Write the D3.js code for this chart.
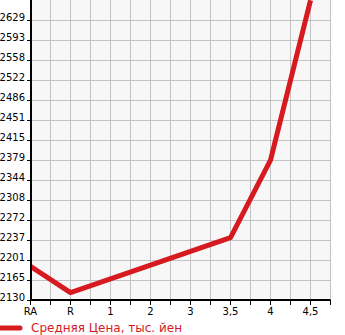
<!DOCTYPE html>
<html>
<head>
<meta charset="utf-8">
<script src="https://cdn.jsdelivr.net/npm/d3@7"></script>
<style>
  body { margin: 0; background: #fff; }
  #chart text { font-family: "DejaVu Sans", sans-serif; }
</style>
</head>
<body>
<div id="chart"></div>
<script>
// grades on the x axis, null = no price for that grade
const categories = ["RA", "R", "1", "2", "3", "3,5", "4", "4,5"];
const avgPrice = [2191, 2144, null, null, null, 2242, 2380, 2665];
const yTickLabels = ["2130", "2165", "2201", "2237", "2272", "2308", "2344", "2379",
  "2415", "2451", "2486", "2522", "2558", "2593", "2629"];
const legendLabel = "Средняя Цена, тыс. йен";

const red = "#d71a1f";

let svg = d3.select("#chart")
  .append("svg")
  .attr("width", 345)
  .attr("height", 335);

let plotLeft = 30.5, plotRight = 330.5, plotTop = 0.5, plotBottom = 300.5;

// y ticks are evenly spaced between first and last label
let yMin = +yTickLabels[0];
let yStep = (+yTickLabels[yTickLabels.length - 1] - yMin) / (yTickLabels.length - 1);
let yTicks = yTickLabels.map((d, i) => yMin + i * yStep);

let x = d3.scaleLinear().domain([0, categories.length - 0.5]).range([plotLeft, plotRight]);
let y = d3.scaleLinear().domain([yMin, yMin + yTickLabels.length * yStep]).range([plotBottom, plotTop]);

let xGrid = d3.range(0, categories.length + 0.5, 0.5);

// plot background
svg.append("rect")
  .attr("x", plotLeft)
  .attr("y", 0)
  .attr("width", plotRight - plotLeft)
  .attr("height", plotBottom)
  .attr("fill", "#f7f7f7");

let grid = svg.append("g")
  .attr("stroke", "#c2c2c2")
  .attr("stroke-width", 1);
grid.selectAll(".vgrid")
  .data(xGrid)
  .enter()
  .append("line")
  .attr("x1", d => x(d))
  .attr("x2", d => x(d))
  .attr("y1", 0)
  .attr("y2", plotBottom);
grid.selectAll(".hgrid")
  .data(yTicks)
  .enter()
  .append("line")
  .attr("x1", plotLeft)
  .attr("x2", plotRight)
  .attr("y1", d => y(d))
  .attr("y2", d => y(d));

svg.append("clipPath")
  .attr("id", "plot-clip")
  .append("rect")
  .attr("x", plotLeft)
  .attr("y", 0)
  .attr("width", plotRight - plotLeft)
  .attr("height", plotBottom);

let points = avgPrice
  .map((v, i) => ({ i: i, v: v }))
  .filter(d => d.v != null);

let line = d3.line()
  .x(d => x(d.i))
  .y(d => y(d.v));

svg.append("path")
  .datum(points)
  .attr("clip-path", "url(#plot-clip)")
  .attr("fill", "none")
  .attr("stroke", red)
  .attr("stroke-width", 5)
  .attr("stroke-linejoin", "round")
  .attr("d", line);

// y axis
let yAxis = svg.append("g")
  .attr("transform", "translate(31,0)")
  .call(d3.axisLeft(y)
    .tickValues(yTicks)
    .tickFormat((d, i) => yTickLabels[i])
    .tickSize(4)
    .tickSizeOuter(0)
    .tickPadding(2)
    .offset(0));
yAxis.select(".domain").attr("stroke", "#000").attr("stroke-width", 2)
  .attr("d", "M0," + plotBottom + "V0");
yAxis.selectAll(".tick line").attr("stroke", "#000");
yAxis.selectAll(".tick text")
  .attr("dy", "0")
  .attr("fill", "#000")
  .style("font-size", "10px");

// x axis
let xAxis = svg.append("g")
  .attr("transform", "translate(0,300)")
  .call(d3.axisBottom(x)
    .tickValues(xGrid)
    .tickFormat(d => Number.isInteger(d) && d < categories.length ? categories[d] : "")
    .tickSize(5)
    .tickSizeOuter(0)
    .tickPadding(3)
    .offset(0));
xAxis.select(".domain").attr("stroke", "#000").attr("stroke-width", 2);
xAxis.selectAll(".tick line").attr("stroke", "#000");
xAxis.selectAll(".tick text")
  .attr("fill", "#000")
  .style("font-size", "10px");

// legend
let legend = svg.append("g").attr("transform", "translate(0,328)");
legend.append("line")
  .attr("x1", -5)
  .attr("x2", 20)
  .attr("stroke", red)
  .attr("stroke-width", 5)
  .attr("stroke-linecap", "round");
legend.append("text")
  .attr("x", 31)
  .attr("y", 4)
  .attr("fill", red)
  .style("font-size", "12px")
  .text(legendLabel);
</script>
</body>
</html>
